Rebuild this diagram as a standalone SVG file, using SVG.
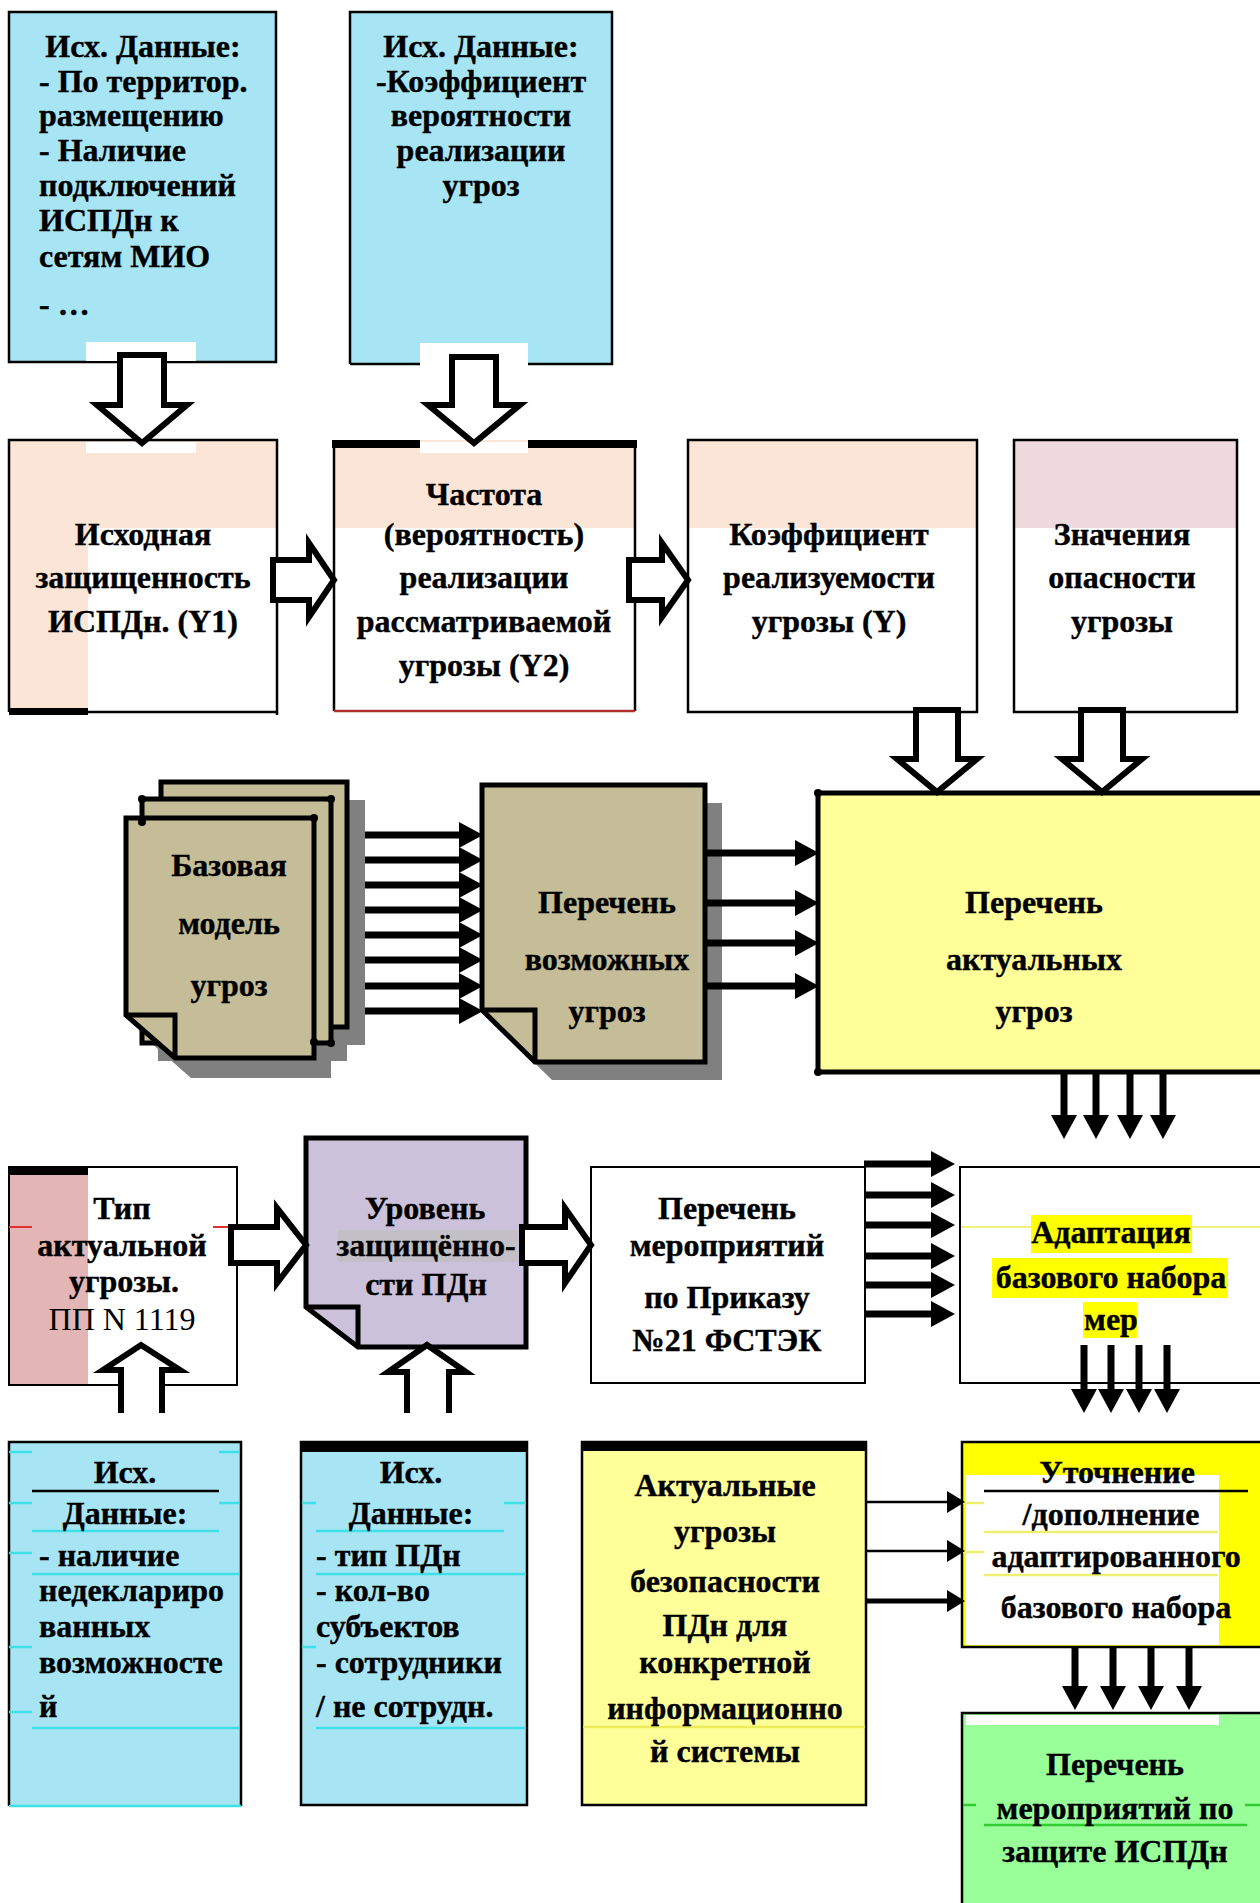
<svg xmlns="http://www.w3.org/2000/svg" width="1260" height="1903" viewBox="0 0 1260 1903">
<defs>
<style>
.t{font-family:"Liberation Serif","Times New Roman",serif;font-weight:bold;font-size:32px;fill:#000;stroke:#000;stroke-width:0.4;text-anchor:middle}
.l{text-anchor:start}
.r{font-weight:normal;stroke:none}
.bx{stroke:#000;stroke-width:2.5}
.doc{stroke:#000;stroke-width:5;stroke-linejoin:miter}
.ha{fill:#fff;stroke:#000;stroke-width:6;stroke-linejoin:miter}
.sa{stroke:#000;stroke-width:7;fill:none}
.cy{stroke:#3ee0e6;stroke-width:2.5}
.sh{fill:#808080}
.dot{fill:#000}
</style>
<marker id="ah" markerUnits="userSpaceOnUse" markerWidth="24" markerHeight="26" refX="0" refY="13" orient="auto" overflow="visible"><path d="M0,0 L24,13 L0,26 Z" fill="#000"/></marker>
<marker id="as" markerUnits="userSpaceOnUse" markerWidth="18" markerHeight="22" refX="0" refY="11" orient="auto" overflow="visible"><path d="M0,0 L18,11 L0,22 Z" fill="#000"/></marker>
</defs>
<rect width="1260" height="1903" fill="#fff"/>

<g id="nodeA">
<rect x="9" y="12" width="267" height="350" fill="#a7e5f4" class="bx"/>
<rect x="86" y="342" width="110" height="19" fill="#fff"/>
<text class="t" x="143" y="57">Исх. Данные:</text>
<text class="t l" x="39" y="92">- По территор.</text>
<text class="t l" x="39" y="126">размещению</text>
<text class="t l" x="39" y="161">- Наличие</text>
<text class="t l" x="39" y="196">подключений</text>
<text class="t l" x="39" y="231">ИСПДн к</text>
<text class="t l" x="39" y="267">сетям МИО</text>
<text class="t l" x="39" y="315">- …</text>
</g>

<g id="nodeB">
<rect x="350" y="12" width="262" height="352" fill="#a7e5f4"/>
<rect x="420" y="343" width="108" height="21" fill="#fff"/>
<path d="M350,364 V12 H612 V364 H528 M420,364 H350" fill="none" class="bx"/>
<text class="t" x="481" y="57">Исх. Данные:</text>
<text class="t" x="481" y="92">-Коэффициент</text>
<text class="t" x="481" y="126">вероятности</text>
<text class="t" x="481" y="161">реализации</text>
<text class="t" x="481" y="196">угроз</text>
</g>

<g id="nodeC">
<rect x="9" y="440" width="268" height="272" fill="#fff"/>
<rect x="9" y="440" width="268" height="88" fill="#fbe5d6"/>
<rect x="9" y="440" width="79" height="272" fill="#fbe5d6"/>
<rect x="86" y="442" width="110" height="11" fill="#fff"/>
<path d="M9,712 V440 H277 V715 M9,712 H277" fill="none" class="bx"/>
<rect x="9" y="708" width="79" height="7" fill="#000"/>
<text class="t" x="143" y="545">Исходная</text>
<text class="t" x="143" y="588">защищенность</text>
<text class="t" x="143" y="632">ИСПДн. (Y1)</text>
</g>

<g id="nodeD">
<rect x="334" y="440" width="301" height="271" fill="#fff"/>
<rect x="334" y="440" width="301" height="88" fill="#fbe5d6"/>
<rect x="420" y="442" width="108" height="11" fill="#fff"/>
<path d="M334,711 V440 M635,440 V711" fill="none" class="bx"/>
<path d="M334,711 H635" fill="none" stroke="#b03030" stroke-width="2.5"/>
<path d="M332,444 H420 M528,444 H637" stroke="#000" stroke-width="8"/>
<text class="t" x="484" y="505">Частота</text>
<text class="t" x="484" y="545">(вероятность)</text>
<text class="t" x="484" y="588">реализации</text>
<text class="t" x="484" y="632">рассматриваемой</text>
<text class="t" x="484" y="676">угрозы (Y2)</text>
</g>

<g id="nodeE">
<rect x="688" y="440" width="289" height="272" fill="#fff"/>
<rect x="688" y="440" width="289" height="88" fill="#fbe5d6"/>
<rect x="688" y="440" width="289" height="272" fill="none" class="bx"/>
<text class="t" x="829" y="545">Коэффициент</text>
<text class="t" x="829" y="588">реализуемости</text>
<text class="t" x="829" y="632">угрозы (Y)</text>
</g>

<g id="nodeF">
<rect x="1014" y="440" width="223" height="272" fill="#fff"/>
<rect x="1014" y="440" width="223" height="88" fill="#efdadf"/>
<rect x="1014" y="440" width="223" height="272" fill="none" class="bx"/>
<text class="t" x="1122" y="545">Значения</text>
<text class="t" x="1122" y="588">опасности</text>
<text class="t" x="1122" y="632">угрозы</text>
</g>

<g id="nodeStack">
<rect x="177" y="800" width="188" height="245" class="sh"/>
<rect x="158" y="817" width="189" height="244" class="sh"/>
<path d="M142,836 H331 V1078 H191 L142,1035 Z" class="sh"/>
<rect x="161" y="782" width="186" height="245" fill="#c4bd97" class="doc"/>
<rect x="142" y="799" width="189" height="244" fill="#c4bd97" class="doc"/>
<path d="M126,818 H314 V1058 H175 L126,1015 Z" fill="#c4bd97" class="doc"/>
<path d="M126,1015 H175 V1058" fill="none" class="doc"/>
<circle class="dot" cx="142" cy="799" r="4"/>
<circle class="dot" cx="331" cy="799" r="4"/>
<circle class="dot" cx="314" cy="818" r="4"/>
<circle class="dot" cx="142" cy="822" r="4"/>
<circle class="dot" cx="314" cy="1042" r="4"/>
<circle class="dot" cx="331" cy="1043" r="4"/>
<text class="t" x="229" y="876">Базовая</text>
<text class="t" x="229" y="934">модель</text>
<text class="t" x="229" y="996">угроз</text>
</g>

<g id="nodeDoc2">
<path d="M499,803 H722 V1080 H552 L499,1028 Z" class="sh"/>
<path d="M482,785 H705 V1062 H535 L482,1010 Z" fill="#c4bd97" class="doc"/>
<path d="M482,1010 H535 V1062" fill="none" class="doc"/>
<text class="t" x="607" y="913">Перечень</text>
<text class="t" x="607" y="970">возможных</text>
<text class="t" x="607" y="1022">угроз</text>
</g>

<g id="nodeG">
<rect x="818" y="793" width="446" height="279" fill="#ffff99" stroke="#000" stroke-width="5"/>
<circle class="dot" cx="818" cy="793" r="4"/>
<circle class="dot" cx="818" cy="1072" r="4"/>
<text class="t" x="1034" y="913">Перечень</text>
<text class="t" x="1034" y="970">актуальных</text>
<text class="t" x="1034" y="1022">угроз</text>
</g>

<g id="nodeH">
<rect x="9" y="1167" width="228" height="218" fill="#fff"/>
<rect x="9" y="1167" width="79" height="218" fill="#e3b6b5"/>
<rect x="9" y="1167" width="228" height="218" fill="none" stroke="#000" stroke-width="2"/>
<rect x="9" y="1167" width="79" height="8" fill="#000"/>
<path d="M9,1227 H32 M213,1227 H234" stroke="#e03030" stroke-width="2"/>
<text class="t" x="122" y="1219">Тип</text>
<text class="t" x="122" y="1256">актуальной</text>
<text class="t" x="124" y="1292">угрозы.</text>
<text class="t r" x="122" y="1330">ПП N 1119</text>
</g>

<g id="nodeI">
<path d="M306,1138 H526 V1347 H358 L306,1307 Z" fill="#ccc1da" class="doc"/>
<path d="M306,1307 H358 V1347" fill="none" class="doc"/>
<rect x="338" y="1230" width="180" height="32" fill="#c2bfc6"/>
<text class="t" x="425" y="1219">Уровень</text>
<text class="t" x="426" y="1256">защищённо-</text>
<text class="t" x="426" y="1295">сти ПДн</text>
</g>

<g id="nodeJ">
<rect x="591" y="1167" width="274" height="216" fill="#fff" stroke="#000" stroke-width="2"/>
<text class="t" x="727" y="1219">Перечень</text>
<text class="t" x="727" y="1256">мероприятий</text>
<text class="t" x="727" y="1308">по Приказу</text>
<text class="t" x="727" y="1351">№21 ФСТЭК</text>
</g>

<g id="nodeK">
<rect x="960" y="1167" width="302" height="216" fill="#fff" stroke="#000" stroke-width="2"/>
<path d="M961,1227 H1260" stroke="#f2f27a" stroke-width="2"/>
<rect x="1031" y="1215" width="161" height="38" fill="#ffff00"/>
<rect x="992" y="1258" width="236" height="40" fill="#ffff00"/>
<rect x="1083" y="1302" width="54" height="36" fill="#ffff00"/>
<text class="t" x="1111" y="1243">Адаптация</text>
<text class="t" x="1111" y="1288">базового набора</text>
<text class="t" x="1111" y="1330">мер</text>
</g>

<g id="nodeL">
<rect x="9" y="1442" width="232" height="364" fill="#a7e5f4"/>
<path d="M9,1806 V1442 H241 V1806" fill="none" stroke="#000" stroke-width="2.5"/>
<path d="M9,1806 H241" class="cy"/>
<path d="M32,1491 H219" stroke="#000" stroke-width="2.5"/>
<path d="M32,1531 H219 M32,1574 H239 M32,1728 H239 M9,1452 H32 M9,1503 H32 M9,1553 H32 M9,1647 H32 M9,1712 H32 M219,1452 H239 M219,1503 H239" class="cy"/>
<text class="t" x="125" y="1483">Исх.</text>
<text class="t" x="125" y="1524">Данные:</text>
<text class="t l" x="39" y="1566">- наличие</text>
<text class="t l" x="39" y="1601">недеклариро</text>
<text class="t l" x="39" y="1637">ванных</text>
<text class="t l" x="39" y="1673">возможносте</text>
<text class="t l" x="39" y="1717">й</text>
</g>

<g id="nodeM">
<rect x="301" y="1442" width="226" height="363" fill="#a7e5f4" stroke="#000" stroke-width="2.5"/>
<rect x="301" y="1442" width="226" height="10" fill="#000"/>
<path d="M316,1531 H504 M316,1574 H526 M316,1728 H526 M302,1503 H316 M302,1647 H316 M504,1503 H526" class="cy"/>
<text class="t" x="411" y="1483">Исх.</text>
<text class="t" x="411" y="1524">Данные:</text>
<text class="t l" x="316" y="1566">- тип ПДн</text>
<text class="t l" x="316" y="1601">- кол-во</text>
<text class="t l" x="316" y="1637">субъектов</text>
<text class="t l" x="316" y="1673">- сотрудники</text>
<text class="t l" x="316" y="1717">/ не сотрудн.</text>
</g>

<g id="nodeN">
<rect x="582" y="1442" width="284" height="363" fill="#ffff99" stroke="#000" stroke-width="2.5"/>
<rect x="582" y="1442" width="284" height="9" fill="#000"/>
<path d="M583,1727 H865" stroke="#ecec5a" stroke-width="2.5"/>
<text class="t" x="725" y="1496">Актуальные</text>
<text class="t" x="725" y="1542">угрозы</text>
<text class="t" x="725" y="1592">безопасности</text>
<text class="t" x="725" y="1636">ПДн для</text>
<text class="t" x="725" y="1673">конкретной</text>
<text class="t" x="725" y="1719">информационно</text>
<text class="t" x="725" y="1762">й системы</text>
</g>

<g id="nodeO">
<rect x="962" y="1442" width="300" height="205" fill="#ffff00" stroke="#000" stroke-width="2.5"/>
<rect x="966" y="1475" width="253" height="170" fill="#fff"/>
<path d="M984,1491 H1248" stroke="#000" stroke-width="2.5"/>
<path d="M984,1532 H1218 M984,1575 H1218 M963,1503 H984 M963,1552 H984" stroke="#f0f070" stroke-width="2.5"/>
<text class="t" x="1117" y="1483">Уточнение</text>
<text class="t" x="1111" y="1525">/дополнение</text>
<text class="t" x="1116" y="1567">адаптированного</text>
<text class="t" x="1116" y="1618">базового набора</text>
</g>

<g id="nodeP">
<rect x="962" y="1713" width="300" height="195" fill="#99ff99" stroke="#000" stroke-width="2.5"/>
<rect x="966" y="1715" width="253" height="10" fill="#fff"/>
<path d="M984,1825 H1247 M963,1805 H976 M1245,1805 H1260" stroke="#33cc33" stroke-width="2.5"/>
<text class="t" x="1115" y="1775">Перечень</text>
<text class="t" x="1115" y="1819">мероприятий по</text>
<text class="t" x="1115" y="1862">защите ИСПДн</text>
</g>

<g id="connectors">
<path class="ha" d="M120,355 H164 V405 H187 L142,443 L97,405 H120 Z"/>
<path class="ha" d="M452,357 H496 V405 H520 L474,443 L428,405 H452 Z"/>
<path class="ha" d="M273,560 H309 V543 L334,580 L309,617 V600 H273 Z"/>
<path class="ha" d="M629,560 H662 V543 L688,580 L662,617 V600 H629 Z"/>
<path class="ha" d="M916,710 H958 V759 H977 L937,792 L897,759 H916 Z"/>
<path class="ha" d="M1081,710 H1123 V759 H1142 L1102,792 L1062,759 H1081 Z"/>
<path class="ha" d="M231,1227 H277 V1208 L306,1245 L277,1283 V1263 H231 Z"/>
<path class="ha" d="M522,1227 H565 V1208 L591,1245 L565,1283 V1263 H522 Z"/>
<path class="ha" d="M121,1413 V1370 H103 L141,1345 L180,1370 H162 V1413"/>
<path class="ha" d="M407,1413 V1372 H388 L427,1345 L466,1372 H449 V1413"/>
<g class="sa">
<path d="M365,835 H459" marker-end="url(#ah)"/>
<path d="M365,860 H459" marker-end="url(#ah)"/>
<path d="M365,885 H459" marker-end="url(#ah)"/>
<path d="M365,910 H459" marker-end="url(#ah)"/>
<path d="M365,935 H459" marker-end="url(#ah)"/>
<path d="M365,960 H459" marker-end="url(#ah)"/>
<path d="M365,986 H459" marker-end="url(#ah)"/>
<path d="M365,1011 H459" marker-end="url(#ah)"/>
<path d="M706,853 H795" marker-end="url(#ah)"/>
<path d="M706,903 H795" marker-end="url(#ah)"/>
<path d="M706,943 H795" marker-end="url(#ah)"/>
<path d="M706,986 H795" marker-end="url(#ah)"/>
<path d="M1064,1073 V1115" marker-end="url(#ah)"/>
<path d="M1096,1073 V1115" marker-end="url(#ah)"/>
<path d="M1130,1073 V1115" marker-end="url(#ah)"/>
<path d="M1163,1073 V1115" marker-end="url(#ah)"/>
<path d="M864,1164 H931" marker-end="url(#ah)"/>
<path d="M864,1195 H931" marker-end="url(#ah)"/>
<path d="M864,1225 H931" marker-end="url(#ah)"/>
<path d="M864,1256 H931" marker-end="url(#ah)"/>
<path d="M864,1285 H931" marker-end="url(#ah)"/>
<path d="M864,1314 H931" marker-end="url(#ah)"/>
<path d="M1084,1345 V1389" marker-end="url(#ah)"/>
<path d="M1111,1345 V1389" marker-end="url(#ah)"/>
<path d="M1139,1345 V1389" marker-end="url(#ah)"/>
<path d="M1167,1345 V1389" marker-end="url(#ah)"/>
<path d="M1075,1648 V1686" marker-end="url(#ah)"/>
<path d="M1113,1648 V1686" marker-end="url(#ah)"/>
<path d="M1151,1648 V1686" marker-end="url(#ah)"/>
<path d="M1189,1648 V1686" marker-end="url(#ah)"/>
</g>
<path d="M866,1502 H947" stroke="#000" stroke-width="2.5" marker-end="url(#as)"/>
<path d="M866,1551 H947" stroke="#000" stroke-width="2.5" marker-end="url(#as)"/>
<path d="M866,1601 H947" stroke="#000" stroke-width="5" marker-end="url(#as)"/>
</g>
</svg>
